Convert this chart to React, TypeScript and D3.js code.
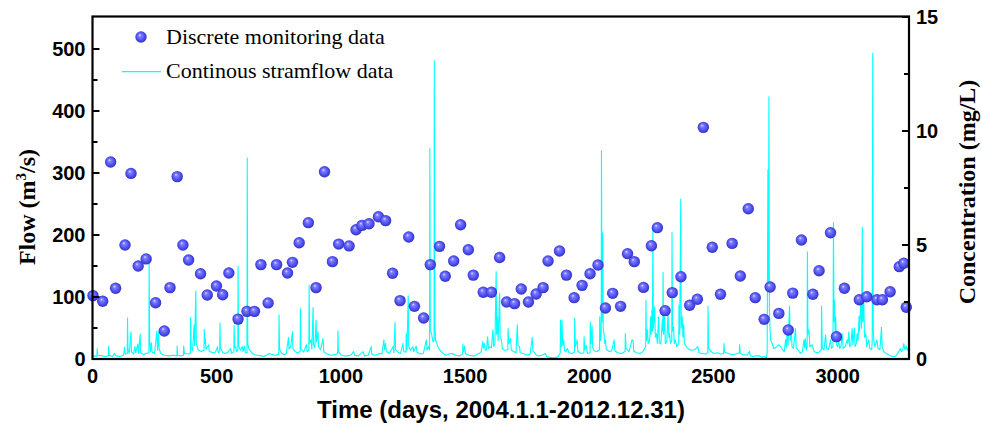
import React from 'react';
import * as d3 from 'd3';

// Discrete monitoring samples (day since 2004-01-01, concentration mg/L)
const sampleDays = [2, 41, 73, 93, 131, 155, 184, 216, 254, 289, 312, 341, 364, 387, 435, 462, 499, 524, 549, 586, 622, 652, 678, 707, 741, 785, 805, 832, 869, 900, 934, 966, 991, 1033, 1061, 1085, 1113, 1151, 1180, 1208, 1238, 1273, 1296, 1333, 1360, 1397, 1420, 1454, 1482, 1513, 1533, 1573, 1606, 1639, 1667, 1699, 1726, 1755, 1786, 1814, 1834, 1880, 1908, 1939, 1971, 2003, 2035, 2065, 2094, 2126, 2154, 2181, 2218, 2250, 2274, 2305, 2334, 2369, 2404, 2435, 2459, 2495, 2528, 2575, 2608, 2640, 2668, 2704, 2728, 2763, 2801, 2819, 2854, 2900, 2925, 2971, 2995, 3027, 3087, 3117, 3158, 3180, 3211, 3248, 3266, 3276];
const sampleConc = [2.78, 2.53, 8.64, 3.10, 5.00, 8.14, 4.08, 4.39, 2.47, 1.23, 3.13, 8.00, 5.00, 4.34, 3.74, 2.81, 3.20, 2.82, 3.77, 1.75, 2.09, 2.09, 4.14, 2.46, 4.14, 3.77, 4.24, 5.10, 5.98, 3.13, 8.21, 4.27, 5.04, 4.96, 5.67, 5.86, 5.93, 6.24, 6.07, 3.76, 2.56, 5.35, 2.31, 1.80, 4.14, 4.94, 3.63, 4.30, 5.89, 4.79, 3.68, 2.93, 2.93, 4.45, 2.50, 2.43, 3.07, 2.50, 2.85, 3.13, 4.30, 4.74, 3.68, 2.69, 3.23, 3.74, 4.12, 2.24, 2.88, 2.31, 4.62, 4.27, 3.14, 4.97, 5.76, 2.12, 2.91, 3.61, 2.36, 2.62, 10.16, 4.90, 2.84, 5.07, 3.64, 6.59, 2.69, 1.74, 3.16, 2.00, 1.27, 2.89, 5.22, 2.84, 3.87, 5.54, 0.98, 3.10, 2.60, 2.73, 2.60, 2.60, 2.95, 4.05, 4.20, 2.27];

// Continuous streamflow (day, m3/s)
const flowSeries: [number, number][] = [
  [0,4],[10,5],[18,4],[19,17],[21,6],[40,5],[50,4],[64,5],[65,21],[67,6],[80,4],[89,9],[95,5],[110,4],[125,6],[129,19],[132,8],[140,9],[141,66],[143,15],[148,9],[155,44],[157,12],[165,8],[171,20],[174,10],[182,24],[185,9],[192,40],[194,10],[205,7],[215,9],[227,10],[228,154],[230,28],[234,12],[237,26],[240,11],[250,9],[259,45],[262,14],[266,43],[268,17],[275,9],[290,6],[310,5],[325,6],[340,5],[341,21],[343,6],[355,5],[366,6],[367,21],[370,9],[385,8],[394,9],[395,67],[397,18],[403,14],[409,55],[411,22],[416,110],[418,25],[425,15],[438,12],[449,14],[450,48],[452,25],[454,33],[457,16],[468,23],[470,12],[485,10],[495,11],[503,20],[506,10],[512,12],[513,58],[515,18],[525,10],[535,9],[545,11],[556,17],[560,9],[569,12],[570,54],[573,18],[577,20],[580,12],[585,14],[586,150],[588,22],[595,14],[603,20],[606,12],[612,21],[615,11],[622,10],[623,324],[625,25],[630,16],[643,9],[655,7],[663,6],[680,5],[690,4],[700,6],[712,9],[725,7],[738,6],[750,8],[751,71],[753,16],[760,10],[772,7],[780,9],[789,35],[791,16],[798,20],[805,44],[807,17],[815,12],[825,10],[836,12],[837,81],[839,17],[850,11],[861,23],[864,12],[871,14],[872,119],[874,25],[880,31],[883,16],[888,83],[890,23],[895,18],[900,63],[902,28],[908,44],[910,20],[918,15],[928,33],[931,12],[940,9],[958,6],[975,7],[987,9],[988,45],[990,12],[1000,7],[1015,5],[1025,5],[1040,6],[1051,12],[1055,6],[1070,5],[1089,12],[1095,5],[1110,6],[1122,20],[1125,7],[1140,6],[1155,9],[1165,8],[1173,31],[1176,15],[1180,25],[1183,12],[1195,9],[1210,20],[1213,10],[1218,59],[1220,15],[1230,11],[1240,9],[1250,25],[1253,12],[1262,11],[1263,41],[1266,15],[1271,102],[1273,20],[1280,14],[1290,20],[1293,12],[1303,21],[1306,11],[1320,8],[1332,9],[1344,31],[1347,14],[1352,20],[1357,15],[1358,340],[1360,45],[1365,41],[1370,28],[1375,30],[1376,481],[1378,60],[1381,31],[1390,20],[1397,15],[1410,9],[1424,6],[1435,8],[1448,9],[1462,6],[1478,5],[1490,8],[1491,24],[1494,12],[1498,21],[1501,9],[1515,6],[1530,5],[1538,5],[1550,8],[1558,9],[1565,12],[1571,28],[1574,18],[1578,25],[1581,14],[1586,15],[1591,36],[1594,17],[1600,20],[1606,18],[1612,47],[1615,20],[1620,25],[1625,141],[1627,40],[1630,68],[1633,30],[1639,106],[1641,35],[1646,31],[1650,17],[1660,14],[1672,15],[1673,49],[1676,25],[1683,33],[1686,14],[1695,12],[1705,10],[1710,55],[1713,22],[1719,20],[1722,10],[1735,9],[1750,6],[1762,8],[1770,35],[1773,13],[1785,7],[1797,5],[1810,6],[1823,9],[1828,4],[1837,3],[1850,2],[1864,2],[1875,4],[1883,10],[1884,63],[1887,20],[1890,63],[1893,22],[1897,31],[1900,14],[1905,12],[1912,17],[1918,10],[1930,9],[1940,11],[1941,66],[1944,20],[1951,31],[1954,12],[1965,9],[1978,10],[1979,36],[1982,15],[1988,22],[1992,9],[2003,10],[2004,60],[2007,25],[2011,53],[2014,18],[2020,13],[2030,12],[2041,15],[2042,68],[2045,30],[2048,40],[2049,336],[2051,60],[2054,203],[2056,50],[2059,41],[2062,25],[2065,31],[2068,16],[2080,12],[2090,13],[2100,31],[2103,13],[2115,10],[2130,9],[2144,12],[2145,41],[2148,17],[2160,12],[2172,31],[2176,30],[2179,13],[2190,10],[2205,9],[2216,12],[2227,20],[2228,95],[2230,30],[2234,47],[2237,25],[2243,30],[2247,68],[2249,40],[2252,79],[2254,45],[2256,211],[2258,50],[2263,84],[2266,35],[2270,41],[2274,25],[2279,68],[2282,26],[2288,24],[2294,63],[2296,45],[2297,140],[2299,40],[2303,68],[2306,25],[2312,28],[2317,76],[2320,35],[2323,41],[2327,25],[2332,30],[2333,204],[2335,45],[2339,52],[2342,25],[2346,31],[2352,20],[2360,25],[2361,87],[2364,40],[2368,258],[2370,50],[2374,68],[2377,35],[2380,55],[2383,25],[2390,20],[2397,17],[2410,14],[2425,15],[2437,20],[2441,10],[2455,9],[2468,8],[2477,10],[2478,85],[2480,18],[2490,12],[2500,9],[2515,10],[2530,8],[2541,9],[2542,25],[2545,11],[2560,9],[2575,7],[2590,8],[2604,10],[2605,23],[2608,9],[2620,7],[2635,6],[2645,12],[2648,5],[2658,4],[2670,5],[2685,5],[2695,3],[2705,4],[2712,1],[2716,10],[2719,305],[2721,120],[2723,423],[2725,80],[2728,45],[2730,31],[2736,25],[2743,17],[2755,20],[2763,23],[2770,20],[2778,15],[2785,12],[2790,31],[2793,18],[2797,47],[2800,22],[2806,85],[2809,30],[2813,52],[2816,20],[2822,17],[2830,49],[2833,18],[2840,15],[2850,9],[2858,12],[2864,31],[2867,18],[2870,33],[2874,14],[2877,20],[2878,173],[2880,40],[2884,47],[2888,20],[2897,23],[2905,12],[2915,10],[2925,11],[2934,15],[2935,85],[2938,17],[2945,15],[2951,39],[2955,17],[2963,15],[2971,31],[2975,17],[2981,20],[2983,220],[2985,60],[2987,95],[2990,40],[2992,68],[2995,23],[3000,20],[3004,31],[3008,17],[3013,20],[3018,41],[3022,17],[3030,20],[3038,31],[3041,25],[3045,44],[3048,20],[3053,23],[3058,49],[3061,23],[3067,49],[3070,20],[3075,25],[3078,41],[3082,30],[3086,69],[3088,45],[3093,95],[3096,50],[3099,212],[3101,60],[3105,90],[3108,35],[3113,41],[3117,20],[3125,31],[3129,17],[3137,15],[3139,30],[3141,493],[3143,50],[3145,31],[3150,20],[3158,31],[3162,17],[3170,15],[3176,51],[3179,20],[3185,12],[3195,9],[3212,5],[3222,4],[3232,4],[3242,9],[3252,17],[3256,12],[3262,14],[3266,25],[3270,15],[3276,21],[3280,14],[3287,20]
];

const flowTicks = [0, 100, 200, 300, 400, 500];
const flowMinorTicks = [50, 150, 250, 350, 450];
const concTicks = [0, 5, 10, 15];
const concMinorTicks = [2.5, 7.5, 12.5];
const dayTicks = [0, 500, 1000, 1500, 2000, 2500, 3000];
const legendLabels = ['Discrete monitoring data', 'Continous stramflow data'];

export default function App() {
  const W = 982, H = 424;
  const L = 92.5, R = 909, T = 17, B = 359;
  const x = d3.scaleLinear().domain([0, 3287]).range([L, R]);
  const yFlow = d3.scaleLinear().domain([0, 551.6]).range([B, T]);
  const yConc = d3.scaleLinear().domain([0, 15]).range([B, T]);
  const line = d3.line<[number, number]>().x(d => x(d[0])).y(d => yFlow(d[1]));
  const sans = '"Liberation Sans", Arial, sans-serif';
  const serif = '"Liberation Serif", "Times New Roman", serif';
  const dotR = 5.7;

  return (
    <div style={{ position: 'absolute', left: 0, top: 0 }}>
      <svg width={W} height={H} viewBox={`0 0 ${W} ${H}`} style={{ display: 'block', background: '#fff' }}>
        <defs>
          <radialGradient id="ball" cx="50%" cy="50%" r="55%" fx="38%" fy="32%">
            <stop offset="0%" stopColor="#e6e6ff" />
            <stop offset="22%" stopColor="#8080ff" />
            <stop offset="65%" stopColor="#4e4ef0" />
            <stop offset="100%" stopColor="#2a2ab8" />
          </radialGradient>
        </defs>

        {/* streamflow line */}
        <path d={line(flowSeries) || ''} fill="none" stroke="#00ffff" strokeWidth={1.1} strokeLinejoin="round" />

        {/* discrete samples */}
        {sampleDays.map((d, i) => (
          <circle key={i} cx={x(d)} cy={yConc(sampleConc[i])} r={dotR} fill="url(#ball)" />
        ))}

        {/* frame */}
        <rect x={L} y={T - 0.5} width={R - L} height={B - T + 0.5} fill="none" stroke="#000" strokeWidth={2.2} />

        {/* left ticks (inward) */}
        {flowTicks.map(t => (
          <g key={'lf' + t}>
            <line x1={L} x2={L + 7} y1={yFlow(t)} y2={yFlow(t)} stroke="#000" strokeWidth={2} />
            <text x={85.5} y={yFlow(t)} dy="0.36em" textAnchor="end" fontFamily={sans} fontWeight="bold" fontSize={20}>{t}</text>
          </g>
        ))}
        {flowMinorTicks.map(t => (
          <line key={'lm' + t} x1={L} x2={L + 5} y1={yFlow(t)} y2={yFlow(t)} stroke="#000" strokeWidth={2} />
        ))}

        {/* right ticks (inward) */}
        {concTicks.map(t => (
          <g key={'rc' + t}>
            <line x1={R} x2={R - 7} y1={yConc(t)} y2={yConc(t)} stroke="#000" strokeWidth={2} />
            <text x={916} y={yConc(t)} dy="0.36em" textAnchor="start" fontFamily={sans} fontWeight="bold" fontSize={20}>{t}</text>
          </g>
        ))}
        {concMinorTicks.map(t => (
          <line key={'rm' + t} x1={R} x2={R - 5} y1={yConc(t)} y2={yConc(t)} stroke="#000" strokeWidth={2} />
        ))}

        {/* bottom tick labels */}
        {dayTicks.map(t => (
          <text key={'b' + t} x={x(t)} y={383} textAnchor="middle" fontFamily={sans} fontWeight="bold" fontSize={20}>{t}</text>
        ))}

        {/* axis titles */}
        <text x={501} y={418} textAnchor="middle" fontFamily={sans} fontWeight="bold" fontSize={24}>Time (days, 2004.1.1-2012.12.31)</text>
        <text transform="translate(35,207) rotate(-90)" textAnchor="middle" fontFamily={serif} fontWeight="bold" fontSize={24}>
          Flow (m<tspan dy="-9" fontSize={15}>3</tspan><tspan dy="9">/s)</tspan>
        </text>
        <text transform="translate(975,192) rotate(-90)" textAnchor="middle" fontFamily={serif} fontWeight="bold" fontSize={24}>Concentration (mg/L)</text>

        {/* legend */}
        <circle cx={141} cy={37} r={dotR} fill="url(#ball)" />
        <text x={166} y={43.5} fontFamily={serif} fontSize={22}>{legendLabels[0]}</text>
        <line x1={122} x2={161} y1={71.7} y2={71.7} stroke="#00ffff" strokeWidth={1.3} />
        <text x={166} y={78} fontFamily={serif} fontSize={22}>{legendLabels[1]}</text>
      </svg>
    </div>
  );
}
